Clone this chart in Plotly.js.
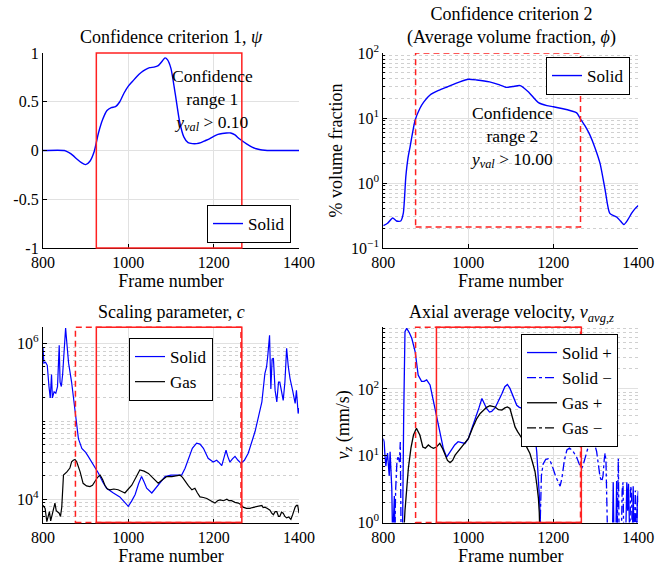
<!DOCTYPE html>
<html>
<head>
<meta charset="utf-8">
<script src="https://cdn.plot.ly/plotly-3.0.1.min.js"></script>
</head>
<body style="margin:0;background:#fff">
<div id="chart" style="width:655px;height:572px"></div>
<script>
// ---------- Panel 1: Confidence criterion 1 (psi) ----------
const frames1 = [800,850,860,870,880,890,900,910,920,930,940,950,960,970,980,990,1000,1010,1020,1030,1040,1050,1060,1070,1080,1086,1092,1100,1110,1120,1130,1140,1150,1160,1170,1180,1190,1200,1210,1220,1230,1240,1250,1260,1270,1280,1290,1300,1310,1320,1330,1400];
const psiSolid = [0,0,-0.02,-0.05,-0.09,-0.125,-0.145,-0.11,-0.01,0.18,0.32,0.41,0.44,0.45,0.50,0.59,0.66,0.71,0.76,0.80,0.83,0.85,0.855,0.87,0.92,0.95,0.93,0.84,0.58,0.30,0.14,0.08,0.07,0.07,0.08,0.10,0.12,0.145,0.165,0.175,0.18,0.18,0.16,0.12,0.09,0.06,0.035,0.018,0.008,0.003,0,0];

// ---------- Panel 2: Average volume fraction (phi) ----------
const frames2 = [800,810,822,831,841,847,853,858,863,869,875,886,895,910,930,950,980,1000,1020,1050,1070,1090,1105,1122,1141,1165,1185,1200,1220,1243,1255,1263,1275,1286,1298,1310,1322,1333,1349,1358,1366,1375,1384,1392,1400];
const phiSolid = [0.22,0.24,0.29,0.26,0.26,0.34,1.25,2.4,3.6,6.0,9.3,14,17.5,22.6,26.5,30,36,39.4,38.5,36,33,29.6,30.5,31.5,25.4,17.2,15.5,14.9,14,12.8,12,9.9,7.5,5.5,3.5,2.0,0.78,0.34,0.30,0.26,0.23,0.27,0.34,0.40,0.45];

// ---------- Panel 3: Scaling parameter c ----------
const frames3Solid = [800,802,806,810,814,817,820,822,826,830,834,838,840,843,846,850,853,856,860,867,875,883,891,900,906,918,930,940,949,965,980,990,1000,1008,1016,1024,1031,1037,1043,1055,1065,1074,1086,1100,1125,1133,1141,1150,1160,1168,1176,1187,1199,1207,1213,1219,1225,1229,1233,1238,1244,1250,1257,1264,1272,1281,1297,1313,1320,1324,1327,1331,1334,1337,1340,1344,1348,1352,1355,1360,1363,1367,1371,1375,1379,1385,1391,1394,1398,1400];
const cSolid = [8.9e5,5.6e5,5.75e5,5.25e5,2.8e5,2.0e5,4.0e5,2.0e5,2.4e5,2.3e5,2.8e5,9.5e5,3.2e5,2.8e5,4.0e5,1.0e6,1.58e6,1.0e6,5.6e5,3.2e5,1.32e5,6.0e4,4.5e4,4.0e4,3.55e4,2.75e4,2.15e4,1.66e4,1.38e4,1.2e4,1.07e4,9.3e3,8.1e3,9.5e3,1.15e4,1.58e4,1.95e4,1.66e4,1.38e4,1.2e4,1.41e4,1.6e4,1.95e4,2.04e4,2.04e4,2.5e4,3.35e4,4.5e4,5.25e4,5.1e4,4.5e4,3.35e4,3.0e4,3.16e4,2.95e4,2.7e4,3.55e4,4.25e4,3.55e4,3.0e4,3.3e4,3.55e4,3.16e4,2.9e4,3.16e4,3.9e4,7.4e4,1.78e5,4.1e5,5.0e5,7.1e5,1.28e6,2.6e5,6.3e5,6.5e5,2.5e5,1.78e5,3.2e5,3.2e5,2.24e5,1.86e5,3.2e5,8.7e5,5.0e5,3.55e5,2.5e5,1.7e5,2.5e5,1.26e5,1.48e5];
const frames3Gas = [800,805,809,812,815,818,820,824,828,831,834,838,841,844,848,856,863,867,871,875,879,883,887,894,902,910,916,922,928,934,940,945,951,957,966,976,984,992,1000,1008,1018,1027,1037,1047,1058,1070,1080,1090,1102,1112,1121,1127,1133,1141,1149,1156,1162,1168,1176,1184,1193,1203,1209,1215,1223,1231,1236,1242,1250,1258,1264,1269,1277,1285,1291,1297,1305,1313,1316,1320,1326,1332,1336,1340,1344,1348,1352,1355,1359,1363,1367,1371,1376,1381,1385,1388,1391,1394,1397,1400];
const cGas = [8300,7600,5130,6300,6900,5250,5750,7100,8900,7100,6900,6600,6000,7900,20400,22400,25100,30200,31600,32400,30200,26300,22400,16000,14800,14500,15100,17000,19100,20400,17800,15100,13500,13200,13500,13200,12600,12000,13500,15100,19100,23700,22900,21400,18600,16000,17800,19500,19500,20000,20400,19100,17000,14800,13200,13800,12000,10700,10500,10200,9550,8900,9550,9800,9550,10000,9550,9550,9100,8900,8500,7900,7600,7600,7800,7900,8100,8300,7800,7900,7600,7200,6600,6300,6900,6900,6000,6000,6800,6600,6000,5750,5900,5500,6300,7200,7900,8300,8300,6600];

// ---------- Panel 4: Axial average velocity (magnitudes, mm/s) ----------
const frames4SolidPos = [800,802,804,806,808,810,812,814,816,818,820,822,826,828,845,848,851,855,861,867,875,882,890,896,902,910,918,929,941,949,955,961,968,976,985,992,1000,1008,1016,1025,1032,1038,1043,1050,1055,1063,1071,1079,1086,1092,1098,1106,1114,1120,1126,1134,1141,1147,1153,1157,1161,1164,1166,1168,1171,1339,1341,1343,1347,1349,1351,1370,1373,1375,1377,1380,1386,1388,1390,1396,1398,1400];
const vSolidPos = [18,16,10,7,9,11,7.2,5,11.5,6.3,3.2,0.5,2.5,0.5,0.5,40,720,810,700,575,360,162,130,130,137,115,65,29,13,9.5,11,12.2,14.5,16.2,15.5,15.3,18,25,34,52,72,60,51,45,46,52,65,85,108,117,102,75,57,53,52,50,48,40,29,20,11.5,6,3.6,2,0.5,0.5,4,0.5,0.5,4.2,0.5,0.5,4,1.5,3.8,0.5,0.5,3.5,0.5,0.5,2.5,2];
const frames4SolidNeg = [824,827,829,832,835,838,840,842,1168,1172,1176,1182,1188,1194,1200,1206,1212,1216,1220,1226,1232,1238,1245,1255,1261,1267,1272,1279,1286,1292,1297,1302,1306,1310,1314,1317,1320,1322,1324,1326,1328,1350,1352,1353,1355,1360,1362,1364,1366,1380,1382,1384,1386,1390,1393,1395,1398,1400];
const vSolidNeg = [0.5,0.5,3,8,10,8,16,0.5,0.5,5,7.5,8.8,9,8,6.3,4.8,4,3.5,4.5,8.5,12.2,13,12,9.5,7.5,6.5,8,12,16.5,18,15,11.5,7,4.8,4.1,5,9,11,8,2,0.5,0.5,6,9,0.5,0.5,3,4,0.5,0.5,3.5,3,0.5,0.5,3,0.5,2,3];
const frames4GasPos = [847,851,859,865,871,878,886,893,899,906,912,918,925,933,939,945,951,957,963,969,976,984,992,1000,1010,1020,1028,1035,1043,1051,1057,1063,1071,1079,1086,1092,1098,1104,1110,1116,1122,1128,1133,1139,1145,1151,1157,1161,1165,1167,1169];
const vGasPos = [0.5,1.5,6.5,13,20.4,25.7,20.4,13.5,13,14.5,13.5,12.9,13.5,15.3,13,10.2,8.5,7.9,8.5,10.2,11.5,13.5,15.5,18,26,36,43,48,53,56,55,53.7,49,48.4,52,53.7,51,38,27,23,20.4,17.5,15.3,13,10.8,8,5.8,3.8,2.3,1.4,0.5];
const frames4GasNeg = [1170,1180];
const vGasNeg = [0.3,0.4];

// tick labels
const xTicks = [800,1000,1200,1400];
const psiTicks = [1,0.5,0,-0.5,-1];
const psiTickText = ['1','0.5','0','-0.5','-1'];
const phiTicks = [0.1,1,10,100];
const phiTickText = ['10<sup>−1</sup>','10<sup>0</sup>','10<sup>1</sup>','10<sup>2</sup>'];
const cTicks = [1e4,1e6];
const cTickText = ['10<sup>4</sup>','10<sup>6</sup>'];
const vTicks = [1,10,100];
const vTickText = ['10<sup>0</sup>','10<sup>1</sup>','10<sup>2</sup>'];

// confidence ranges (frames)
const range1 = [925,1266];
const range2 = [876,1264];
const range2Y = [0.21,100];

const FONT = 'Liberation Serif';
const FS = 16;
const FT = 18;   // titles
const W = 655, H = 572;
function px(x){return x/W;}
function py(y){return 1-y/H;}

function minorLog(n0,n1){
  const v=[];
  for(let n=n0;n<=n1;n++){
    for(let k=2;k<=9;k++){ v.push(k*Math.pow(10,n)); }
  }
  return v;
}

const base = {
  showline:true, linecolor:'#000', linewidth:1.1, mirror:false,
  ticks:'inside', ticklen:4, tickcolor:'#000', tickwidth:1,
  showgrid:true, gridcolor:'#e1e1e1', gridwidth:1,
  zeroline:false, tickfont:{family:FONT,size:FS,color:'#000'}
};
function xax(dom, anchor){
  return Object.assign({}, base, {domain:dom, anchor:anchor, range:[800,1400], tickmode:'array', tickvals:xTicks,
    title:{text:'Frame number', font:{family:FONT,size:FT,color:'#000'}, standoff:2}});
}
const minorStyle = {ticks:'inside', ticklen:2, tickcolor:'#000', showgrid:true, gridcolor:'#d0d0d0', griddash:'dot', gridwidth:1};

const BLUE = '#0000ff';
const RED = '#ff2020';
const traces = [
  {x:frames1, y:psiSolid, xaxis:'x', yaxis:'y', name:'Solid', mode:'lines', line:{color:BLUE,width:1.4,shape:'spline',smoothing:0.6}, legend:'legend'},
  {x:frames2, y:phiSolid, xaxis:'x2', yaxis:'y2', name:'Solid', mode:'lines', line:{color:BLUE,width:1.4,shape:'spline',smoothing:0.6}, legend:'legend2'},
  {x:frames3Solid, y:cSolid, xaxis:'x3', yaxis:'y3', name:'Solid', mode:'lines', line:{color:BLUE,width:1.2}, legend:'legend3'},
  {x:frames3Gas, y:cGas, xaxis:'x3', yaxis:'y3', name:'Gas', mode:'lines', line:{color:'#000',width:1.2}, legend:'legend3'},
  {x:frames4SolidPos, y:vSolidPos, xaxis:'x4', yaxis:'y4', name:'Solid +', mode:'lines', line:{color:BLUE,width:1.3}, legend:'legend4'},
  {x:frames4SolidNeg, y:vSolidNeg, xaxis:'x4', yaxis:'y4', name:'Solid −', mode:'lines', line:{color:BLUE,width:1.3,dash:'dashdot'}, legend:'legend4'},
  {x:frames4GasPos, y:vGasPos, xaxis:'x4', yaxis:'y4', name:'Gas +', mode:'lines', line:{color:'#000',width:1.3}, legend:'legend4'},
  {x:frames4GasNeg, y:vGasNeg, xaxis:'x4', yaxis:'y4', name:'Gas −', mode:'lines', line:{color:'#000',width:1.3,dash:'dashdot'}, legend:'legend4'}
];

const legBase = {bgcolor:'#fff', bordercolor:'#000', borderwidth:1, font:{family:FONT,size:17,color:'#000'}, itemwidth:30, tracegroupgap:0};

const d1x=[px(43),px(299)], d2x=[px(383.3),px(638.3)];
const dTop=[py(248),py(53)], dBot=[py(522.5),py(327.2)];

const annFont = {family:FONT,size:FT,color:'#000'};
const boxFont = {family:FONT,size:17.5,color:'#000'};
const layout = {
  width:W, height:H, margin:{l:0,r:0,t:0,b:0},
  paper_bgcolor:'#fff', plot_bgcolor:'#fff', showlegend:true,
  font:{family:FONT,size:FS,color:'#000'},
  xaxis: xax(d1x,'y'),
  yaxis: Object.assign({}, base, {domain:dTop, anchor:'x', range:[-1,1], tickmode:'array', tickvals:psiTicks, ticktext:psiTickText}),
  xaxis2: xax(d2x,'y2'),
  yaxis2: Object.assign({}, base, {domain:dTop, anchor:'x2', type:'log', range:[-1,2], tickmode:'array', tickvals:phiTicks, ticktext:phiTickText,
    minor:Object.assign({tickmode:'array', tickvals:minorLog(-1,1)}, minorStyle),
    title:{text:'% volume fraction', font:{family:FONT,size:FT,color:'#000'}, standoff:3}}),
  xaxis3: xax(d1x,'y3'),
  yaxis3: Object.assign({}, base, {domain:dBot, anchor:'x3', type:'log', range:[3.7,6.21], tickmode:'array', tickvals:cTicks, ticktext:cTickText,
    minor:Object.assign({tickmode:'array', tickvals:minorLog(3,6).concat([1e5])}, minorStyle)}),
  xaxis4: xax(d2x,'y4'),
  yaxis4: Object.assign({}, base, {domain:dBot, anchor:'x4', type:'log', range:[0,2.925], tickmode:'array', tickvals:vTicks, ticktext:vTickText,
    minor:Object.assign({tickmode:'array', tickvals:minorLog(0,2)}, minorStyle),
    title:{text:'<i>v<sub>z</sub></i> (mm/s)', font:{family:FONT,size:FT,color:'#000'}, standoff:3}}),
  legend: Object.assign({}, legBase, {x:px(291), y:py(243), xanchor:'right', yanchor:'bottom'}),
  legend2: Object.assign({}, legBase, {x:px(630), y:py(57), xanchor:'right', yanchor:'top'}),
  legend3: Object.assign({}, legBase, {x:px(171), y:py(338), xanchor:'center', yanchor:'top'}),
  legend4: Object.assign({}, legBase, {x:px(618), y:py(334), xanchor:'right', yanchor:'top'}),
  shapes: [
    {type:'rect', xref:'x', yref:'y domain', x0:range1[0], x1:range1[1], y0:0, y1:1, line:{color:RED,width:1.5}},
    {type:'rect', xref:'x2', yref:'y2', x0:range2[0], x1:range2[1], y0:range2Y[0], y1:range2Y[1], line:{color:RED,width:1.5,dash:'6px,4px'}},
    {type:'rect', xref:'x3', yref:'y3 domain', x0:range2[0], x1:range2[1], y0:0, y1:1, line:{color:RED,width:1.5,dash:'6px,4px'}},
    {type:'rect', xref:'x3', yref:'y3 domain', x0:range1[0], x1:range1[1], y0:0, y1:1, line:{color:RED,width:1.5}},
    {type:'rect', xref:'x4', yref:'y4 domain', x0:range2[0], x1:range2[1], y0:0, y1:1, line:{color:RED,width:1.5,dash:'6px,4px'}},
    {type:'rect', xref:'x4', yref:'y4 domain', x0:range1[0], x1:range1[1], y0:0, y1:1, line:{color:RED,width:1.5}}
  ],
  annotations: [
    {xref:'paper', yref:'paper', x:px(171), y:py(37), text:'Confidence criterion 1, <i>ψ</i>', showarrow:false, font:annFont, xanchor:'center', yanchor:'middle'},
    {xref:'paper', yref:'paper', x:px(511), y:py(26), text:'Confidence criterion 2<br>(Average volume fraction, <i>ϕ</i>)', showarrow:false, font:annFont, xanchor:'center', yanchor:'middle'},
    {xref:'paper', yref:'paper', x:px(171), y:py(312), text:'Scaling parameter, <i>c</i>', showarrow:false, font:annFont, xanchor:'center', yanchor:'middle'},
    {xref:'paper', yref:'paper', x:px(511), y:py(313), text:'Axial average velocity, <i>v<sub>avg,z</sub></i>', showarrow:false, font:annFont, xanchor:'center', yanchor:'middle'},
    {xref:'x', yref:'y', x:1198, y:0.52, text:'Confidence<br>range 1<br><i>y<sub>val</sub></i> > 0.10', showarrow:false, font:boxFont, xanchor:'center', yanchor:'middle'},
    {xref:'x2', yref:'y2', x:1102, y:0.708, text:'Confidence<br>range 2<br><i>y<sub>val</sub></i> > 10.00', showarrow:false, font:boxFont, xanchor:'center', yanchor:'middle'}
  ]
};

Plotly.newPlot('chart', traces, layout, {staticPlot:true, displayModeBar:false});
</script>
</body>
</html>
